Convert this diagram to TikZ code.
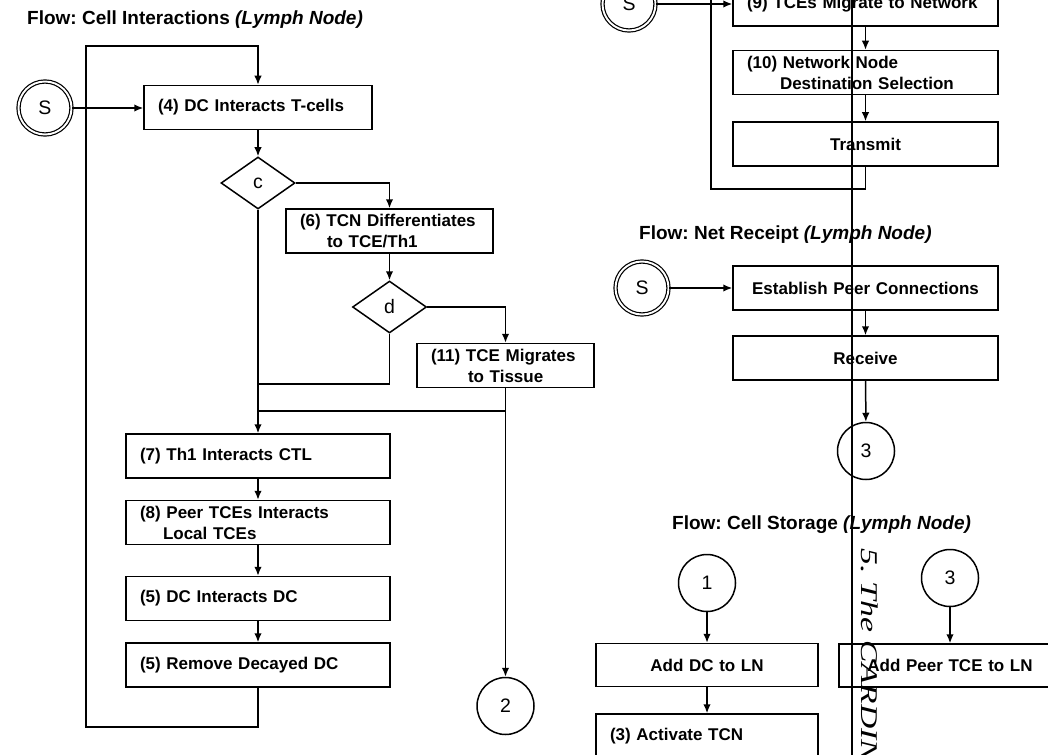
\documentclass[tikz,border=0pt]{standalone}
\usepackage{fontspec}
\usetikzlibrary{arrows.meta,shapes.geometric}
\newfontfamily\arialf{Liberation Sans}
\newfontfamily\timesf{Liberation Serif}
\frenchspacing
\begin{document}
\begin{tikzpicture}[x=1pt,y=-1pt,
  ln/.style={line width=1.5pt},
  arr/.style={ln,-{Latex[length=9pt,width=7.5pt]}},
  box/.style={draw,line width=1.5pt,fill=white,minimum height=44pt,inner xsep=14pt,inner ysep=0pt,
    font=\arialf\bfseries\fontsize{17}{21}\selectfont},
  lbox/.style={box,align=left},
  cbox/.style={box,align=center},
  circ/.style={circle,draw,line width=1.5pt,minimum size=57pt,inner sep=0pt,font=\arialf\fontsize{19.5}{22}\selectfont},
  dcirc/.style={circle,draw,line width=1.2pt,double,double distance=1.9pt,minimum size=53pt,inner sep=0pt,
    font=\arialf\fontsize{19.5}{22}\selectfont},
  dia/.style={diamond,draw,line width=1.5pt,fill=white,minimum width=74pt,minimum height=52pt,inner sep=0pt,
    font=\arialf\fontsize{19.5}{22}\selectfont},
  title/.style={anchor=west,inner sep=0pt,font=\arialf\bfseries\fontsize{19}{22}\selectfont}]
\useasboundingbox (0,0) rectangle (1048,754);
\clip (0,0) rectangle (1048,754);

% ---------- Flow: Cell Interactions ----------
\node[title] (t1) at (27,20) {Flow: Cell Interactions \textit{(Lymph Node)}};
\node[dcirc] (s1) at (45,108) {S};
\node[lbox,text width=200pt] (b4) at (258,107.5) {(4) DC Interacts T-cells};
\node[dia] (c) at (258,183) {c};
\node[lbox,text width=179pt] (b6) at (389.5,231) {(6) TCN Differentiates\\\hspace*{27pt}to TCE/Th1};
\node[dia] (d) at (389.5,307) {d};
\node[lbox,text width=149pt] (b11) at (505.5,365.5) {(11) TCE Migrates\\\hspace*{37pt}to Tissue};
\node[lbox,text width=236pt] (b7) at (258,456) {(7) Th1 Interacts CTL};
\node[lbox,text width=236pt] (b8) at (258,522.5) {(8) Peer TCEs Interacts\\\hspace*{23pt}Local TCEs};
\node[lbox,text width=236pt] (b5a) at (258,598.5) {(5) DC Interacts DC};
\node[lbox,text width=236pt] (b5b) at (258,665) {(5) Remove Decayed DC};
\node[circ] (n2) at (505.5,706) {2};

\coordinate (j1) at (258,384);
\coordinate (j2) at (258,411);
\coordinate (lbl) at (86,727);
\coordinate (ltl) at (86,46);

\draw[arr] (s1) -- (s1 -| b4.west);
\draw[arr] (b4) -- (c);
\draw[arr] (c.east) -| (b6.north);
\draw[arr] (b6) -- (d);
\draw[arr] (d.east) -| (b11.north);
\draw[arr] (c.south) -- (b7.north);
\draw[ln] (d.south) |- (j1);
\draw[ln] (b11.south) |- (j2);
\draw[arr] (b11.south) -- (n2.north);
\draw[arr] (b7) -- (b8);
\draw[arr] (b8) -- (b5a);
\draw[arr] (b5a) -- (b5b);
\draw[arr] (b5b.south) |- (lbl) -- (ltl) -| (b4.north);

% ---------- Flow: network migration ----------
\node[dcirc] (s2) at (629,4) {S};
\node[lbox,text width=237pt] (b9) at (865.5,4) {(9) TCEs Migrate to Network};
\node[lbox,text width=237pt] (b10) at (865.5,72.5) {(10) Network Node\\\hspace*{33pt}Destination Selection};
\node[cbox,text width=237pt] (tx) at (865.5,144) {Transmit};
\coordinate (rbl) at (711,189);
\coordinate (rtl) at (711,-40);
\draw[arr] (s2) -- (s2 -| b9.west);
\draw[arr] (b9) -- (b10);
\draw[arr] (b10) -- (tx);
\draw[arr] (tx.south) |- (rbl) -- (rtl) -| (b9.north);

% ---------- Flow: Net Receipt ----------
\node[title] (t2) at (639,235) {Flow: Net Receipt \textit{(Lymph Node)}};
\node[dcirc] (s3) at (642,288) {S};
\node[cbox,text width=237pt] (ep) at (865.5,288) {Establish Peer Connections};
\node[cbox,text width=237pt] (rc) at (865.5,358) {Receive};
\node[circ] (n3) at (866,451) {3};
\draw[arr] (s3) -- (ep);
\draw[arr] (ep) -- (rc);
\draw[arr] (rc) -- (n3);

% ---------- Flow: Cell Storage ----------
\node[title] (t3) at (672,525) {Flow: Cell Storage \textit{(Lymph Node)}};
\node[circ] (n1) at (707,583) {1};
\node[cbox,text width=194pt,minimum height=43pt] (adc) at (707,665) {Add DC to LN};
\node[lbox,text width=194pt] (act) at (707,736) {(3) Activate TCN};
\node[circ] (n3b) at (950,578) {3};
\node[cbox,text width=194pt,minimum height=43pt] (apt) at (950,665.5) {Add Peer TCE to LN};
\draw[arr] (n1) -- (adc);
\draw[arr] (adc) -- (act);
\draw[arr] (n3b) -- (apt);

% ---------- page rule and running head ----------
\coordinate (pgtop) at (852,-5);
\coordinate (pgbot) at (852,760);
\draw[line width=1.1pt] (pgtop) -- (pgbot);
\node[rotate=-90,xscale=1.4,anchor=base west,inner sep=0pt,font=\timesf\itshape\fontsize{24}{28}\selectfont]
  (head) at (861,548) {5. The CARDIN};
\end{tikzpicture}
\end{document}
